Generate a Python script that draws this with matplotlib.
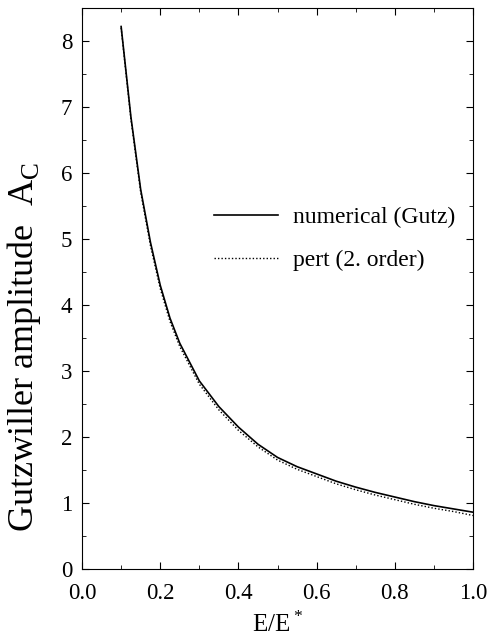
import numpy as np
import matplotlib.pyplot as plt
from matplotlib.ticker import MultipleLocator

# values
e_ratio = [0.10, 0.125, 0.15, 0.175, 0.20, 0.225, 0.25, 0.30, 0.35, 0.40,
           0.45, 0.50, 0.55, 0.60, 0.65, 0.70, 0.75, 0.80, 0.85, 0.90,
           0.95, 1.00]
amp_numerical = [8.22, 6.85, 5.75, 4.95, 4.30, 3.80, 3.42, 2.85, 2.46, 2.15,
                 1.89, 1.69, 1.55, 1.44, 1.33, 1.24, 1.16, 1.09, 1.02, 0.96,
                 0.91, 0.86]
amp_pert = [8.20, 6.82, 5.71, 4.90, 4.25, 3.75, 3.37, 2.80, 2.41, 2.10,
            1.85, 1.65, 1.51, 1.40, 1.29, 1.20, 1.12, 1.05, 0.98, 0.92,
            0.87, 0.81]

plt.rcParams["font.family"] = ["Liberation Serif", "DejaVu Serif"]
plt.rcParams["mathtext.fontset"] = "custom"
plt.rcParams["mathtext.rm"] = "Liberation Serif"

fig = plt.figure(figsize=(4.95, 6.37), dpi=100)
ax = fig.add_axes([0.1657, 0.1068, 0.79, 0.8806])

ax.plot(e_ratio, amp_numerical, color="black", lw=1.2, label="numerical (Gutz)")
ax.plot(e_ratio, amp_pert, color="black", lw=1.0, linestyle=(0, (1, 1.5)),
        label="pert (2. order)")

ax.set_xlim(0.0, 1.0)
ax.set_ylim(0.0, 8.5)
ax.xaxis.set_major_locator(MultipleLocator(0.2))
ax.xaxis.set_minor_locator(MultipleLocator(0.1))
ax.yaxis.set_major_locator(MultipleLocator(1))
ax.yaxis.set_minor_locator(MultipleLocator(0.5))
ax.xaxis.set_major_formatter(plt.FormatStrFormatter("%.1f"))
ax.tick_params(which="both", direction="in", top=True, right=True, labelsize=16.5)
ax.tick_params(which="major", length=5)
ax.tick_params(which="minor", length=3)
ax.tick_params(axis="x", pad=10)
ax.tick_params(axis="y", pad=7)

ax.set_xlabel(r"E/E$^*$", fontsize=18, labelpad=5)
ax.set_ylabel(r"Gutzwiller amplitude  A$_\mathregular{C}$", fontsize=26)
ax.yaxis.set_label_coords(-0.100, 0.396)

ax.legend(loc="upper left", bbox_to_anchor=(0.284, 0.684), frameon=False,
          fontsize=17, handlelength=2.7, handletextpad=0.64, labelspacing=0.92)

fig.savefig("out.png", dpi=100)
